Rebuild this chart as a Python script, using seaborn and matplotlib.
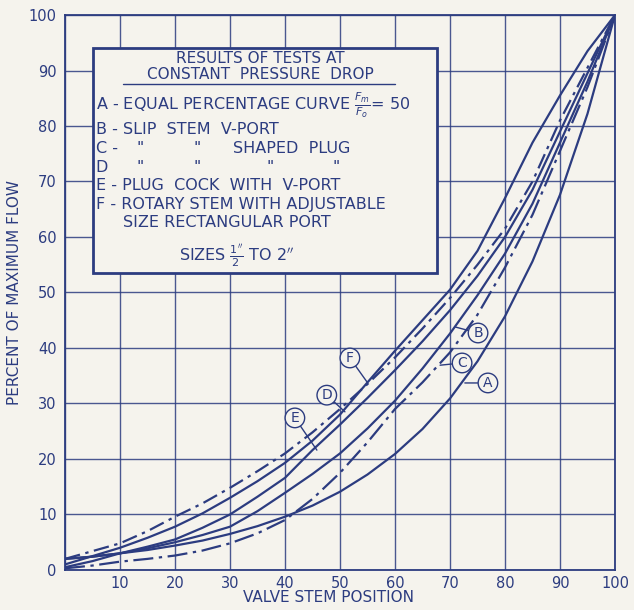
import pandas as pd
import matplotlib
matplotlib.use("Agg")
import matplotlib.pyplot as plt
import matplotlib.patches as mpatches
import seaborn as sns

# Valve stem position (%)
position = [0, 5, 10, 15, 20, 25, 30, 35, 40, 45, 50, 55, 60, 65, 70, 75, 80, 85, 90, 95, 100]

# Percent of maximum flow
flow_A = [2.0, 2.4, 3.0, 3.6, 4.4, 5.3, 6.5, 7.9, 9.6, 11.6, 14.1, 17.2, 20.9, 25.4, 30.9, 37.6, 45.7, 55.6, 67.6, 82.2, 100]
flow_B = [2.0, 2.4, 3.0, 3.9, 5.0, 6.3, 7.8, 10.6, 13.9, 17.3, 21.0, 25.5, 30.5, 36.3, 42.6, 49.5, 57.0, 66.0, 77.0, 88.0, 100]
flow_C = [0.3, 0.8, 1.5, 2.0, 2.6, 3.5, 4.8, 6.6, 9.0, 12.8, 17.5, 23.0, 29.0, 33.8, 39.2, 46.0, 54.5, 64.0, 75.5, 87.0, 100]
flow_D = [2.0, 3.4, 4.8, 7.0, 9.6, 12.0, 14.8, 17.8, 21.0, 24.8, 29.0, 33.5, 38.3, 43.5, 49.0, 55.0, 61.5, 70.0, 81.0, 90.5, 100]
flow_E = [0.5, 1.6, 3.0, 4.2, 5.5, 7.6, 10.0, 13.2, 16.6, 21.6, 26.2, 31.0, 36.0, 41.2, 46.8, 53.0, 60.0, 68.5, 79.0, 89.5, 100]
flow_F = [1.0, 2.5, 4.0, 5.8, 7.8, 10.2, 13.0, 16.0, 19.3, 23.3, 28.0, 33.8, 39.5, 45.0, 50.5, 57.5, 67.0, 77.0, 85.5, 93.5, 100]

curve_names = ["A", "B", "C", "D", "E", "F"]
x_ticks = [0, 10, 20, 30, 40, 50, 60, 70, 80, 90, 100]
x_ticklabels = ["", "10", "20", "30", "40", "50", "60", "70", "80", "90", "100"]
y_ticks = [0, 10, 20, 30, 40, 50, 60, 70, 80, 90, 100]

ink = "#2c3c80"
paper = "#f5f3ed"

# long table for seaborn
flows = {"A": flow_A, "B": flow_B, "C": flow_C, "D": flow_D, "E": flow_E, "F": flow_F}
df = pd.concat([pd.DataFrame({"position": position, "flow": v, "curve": k}) for k, v in flows.items()])

sns.set_style("white")
plt.rcParams["font.family"] = ["DejaVu Sans"]

fig = plt.figure(figsize=(6.34, 6.10), dpi=100, facecolor=paper)
ax = fig.add_axes([0.1025, 0.0656, 0.8675, 0.9098])
ax.set_facecolor(paper)

line_dashes = {"A": "", "B": "", "C": (9, 2.5, 1.5, 2.5), "D": (7, 2.5, 1.5, 2.5), "E": "", "F": ""}
sns.lineplot(data=df, x="position", y="flow", hue="curve", style="curve",
             palette=[ink] * 6, dashes=line_dashes, estimator=None,
             legend=False, linewidth=1.6, ax=ax, zorder=3)

ax.set_xlim(0, 100)
ax.set_ylim(0, 100)
ax.set_xticks(x_ticks)
ax.set_xticklabels(x_ticklabels)
ax.set_yticks(y_ticks)
ax.grid(True, color=ink, linewidth=1.0, alpha=0.85)
for s in ax.spines.values():
    s.set_color(ink)
    s.set_linewidth(1.3)
ax.tick_params(axis="y", colors=ink, length=5, width=1.0, labelsize=10.5, pad=1)
ax.tick_params(axis="x", colors=ink, length=0, labelsize=10.5, pad=4)
ax.set_xlabel("VALVE STEM POSITION", color=ink, fontsize=11)
ax.set_ylabel("PERCENT OF MAXIMUM FLOW", color=ink, fontsize=11)
ax.xaxis.set_label_coords(0.48, -0.036)
ax.yaxis.set_label_coords(-0.078, 0.5)

# legend box
box = mpatches.Rectangle((5.1, 53.5), 62.5, 40.5, facecolor=paper, edgecolor=ink,
                         linewidth=2.0, zorder=4)
ax.add_patch(box)
hk = dict(color=ink, fontsize=11, zorder=5, va="center")
tk = dict(color=ink, fontsize=11.5, zorder=5, va="center")
ax.text(35.5, 92.1, "RESULTS OF TESTS AT", ha="center", **hk)
ax.text(35.5, 89.3, "CONSTANT  PRESSURE  DROP", ha="center", **hk)
ax.plot([10.5, 60], [87.5, 87.5], color=ink, linewidth=1.0, zorder=5)
ax.text(5.6, 83.8, r"A - EQUAL PERCENTAGE CURVE $\frac{F_m}{F_o}$= 50", ha="left", **tk)
ax.text(5.6, 79.4, "B - SLIP  STEM  V-PORT", ha="left", **tk)
ax.text(5.6, 75.9, "C -", ha="left", **tk)
ax.text(5.6, 72.6, "D", ha="left", **tk)
for xd in [13.0, 23.3]:
    ax.text(xd, 75.9, '"', ha="left", **tk)
for xd in [13.0, 23.3, 36.7, 48.7]:
    ax.text(xd, 72.6, '"', ha="left", **tk)
ax.text(30.5, 75.9, "SHAPED  PLUG", ha="left", **tk)
ax.text(5.6, 69.2, "E - PLUG  COCK  WITH  V-PORT", ha="left", **tk)
ax.text(5.6, 65.8, "F - ROTARY STEM WITH ADJUSTABLE", ha="left", **tk)
ax.text(10.5, 62.6, "SIZE RECTANGULAR PORT", ha="left", **tk)
ax.text(31.3, 56.6, r"SIZES $\frac{1^{\prime\prime}}{2}$ TO 2$^{\prime\prime}$", ha="center", **tk)

# circled curve labels with leaders
labels = [("A", (76.9, 33.7), (72.7, 33.7)),
          ("B", (75.1, 42.7), (70.9, 43.8)),
          ("C", (72.2, 37.3), (68.2, 36.9)),
          ("D", (47.6, 31.5), (50.9, 28.5)),
          ("E", (41.8, 27.4), (45.8, 21.6)),
          ("F", (51.8, 38.2), (54.9, 33.9))]
for name, txt_xy, tip_xy in labels:
    ax.annotate(name, xy=tip_xy, xytext=txt_xy, color=ink, fontsize=10,
                ha="center", va="center", zorder=6,
                bbox=dict(boxstyle="circle,pad=0.2", facecolor=paper, edgecolor=ink, linewidth=1.0),
                arrowprops=dict(arrowstyle="-", color=ink, linewidth=1.0, shrinkA=0, shrinkB=0))

fig.savefig("out.png", dpi=100, facecolor=paper)
